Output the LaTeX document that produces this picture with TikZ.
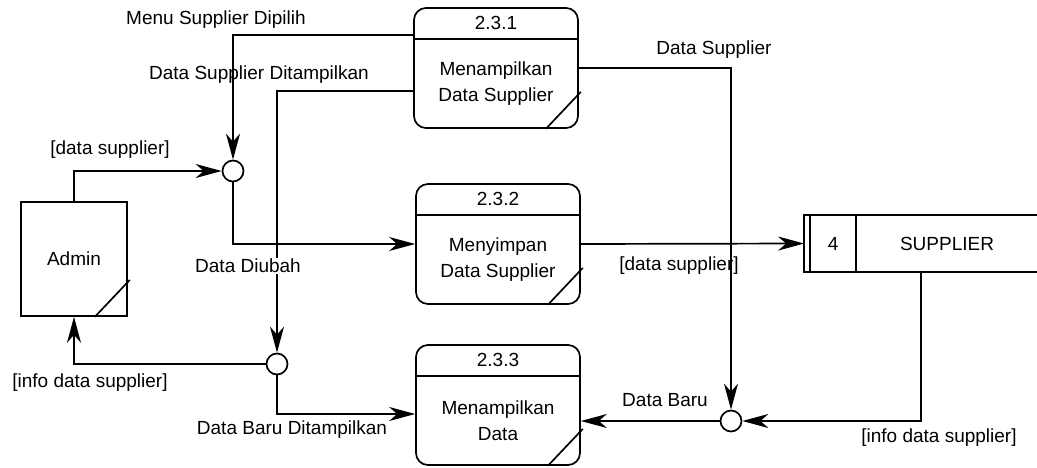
\documentclass[tikz,border=0pt]{standalone}
\usepackage{fontspec}
\setmainfont{Liberation Sans}
\usetikzlibrary{arrows.meta}

\tikzset{
    proc/.style={draw, rounded corners=12pt, minimum width=164pt, minimum height=120pt, inner sep=0pt},
    junc/.style={draw, circle, fill=white, minimum size=21pt, inner sep=0pt},
    flow/.style={-{Stealth[length=26pt,width=14pt,inset=8pt]}},
}

\begin{document}
\begin{tikzpicture}[x=1pt,y=-1pt,line width=1.7pt,font=\fontsize{19}{26}\selectfont]
    \useasboundingbox (0,0) rectangle (1037,468);

    % External entity
    \node[draw, minimum width=106pt, minimum height=114pt] (admin) at (74,259) {Admin};

    % Processes
    \node[proc] (p1) at (496,68) {};
    \node[proc] (p2) at (498,244) {};
    \node[proc] (p3) at (498,405) {};
    \foreach \n/\lab in {p1/2.3.1,p2/2.3.2,p3/2.3.3} {
        \draw ([yshift=-32pt]\n.north west) -- ([yshift=-32pt]\n.north east);
        \node (\n id) at ([yshift=-16pt]\n.north) {\lab};
    }
    \node[align=center] (p1txt) at ([yshift=-16pt]p1.center) {Menampilkan\\Data Supplier};
    \node[align=center] (p2txt) at ([yshift=-16pt]p2.center) {Menyimpan\\Data Supplier};
    \node[align=center] (p3txt) at ([yshift=-16pt]p3.center) {Menampilkan\\Data};

    % Corner marks
    \foreach \n in {admin,p1,p2,p3}
        \draw ([xshift=-33pt]\n.south east) -- ([xshift=2pt,yshift=37pt]\n.south east);

    % Data store
    \node[minimum width=232pt, minimum height=55pt, inner sep=0pt] (store) at (921,243.5) {};
    \draw (store.north east) -- (store.north west) -- (store.south west) -- (store.south east);
    \draw ([xshift=6pt]store.north west) -- ([xshift=6pt]store.south west);
    \draw ([xshift=52pt]store.north west) -- ([xshift=52pt]store.south west);
    \node (storeid) at ([xshift=29pt]store.west) {4};
    \node (storename) at ([xshift=26pt]store.center) {SUPPLIER};

    % Junctions
    \node[junc] (j1) at (233,171) {};
    \node[junc] (j2) at (277,364) {};
    \node[junc] (j3) at (731,421) {};

    % Flows
    \draw[flow] ([yshift=-28pt]p1.north west) -| (j1.north);
    \draw[flow] ([yshift=-84pt]p1.north west) -| (j2.north);
    \draw[flow] (admin.north) |- (j1.west);
    \draw[flow] (j1.south) |- (p2.west);
    \draw[flow] (j2.west) -| (admin.south);
    \draw[flow] (j2.south) |- ([yshift=-9pt]p3.west);
    \draw[flow] (p1.east) -| (j3.north);
    \draw[flow] (p2.east) -- (store.west);
    \draw[flow] (store.south) |- (j3.east);
    \draw[flow] (j3.west) -- (j3.west -| p3.east);

    % Labels
    \node (l1) at (216,20) {Menu Supplier Dipilih};
    \node (l2) at (259,75) {Data Supplier Ditampilkan};
    \node (l3) at (110,150) {[data supplier]};
    \node[fill=white, inner sep=1pt] (l4) at (248,266) {Data Diubah};
    \node (l5) at (90,383) {[info data supplier]};
    \node (l6) at (292,430) {Data Baru Ditampilkan};
    \node (l7) at (714,50) {Data Supplier};
    \node (l8) at (679,266) {[data supplier]};
    \node (l9) at (939,438) {[info data supplier]};
    \node (l10) at (665,400) {Data Baru};

\end{tikzpicture}
\end{document}
